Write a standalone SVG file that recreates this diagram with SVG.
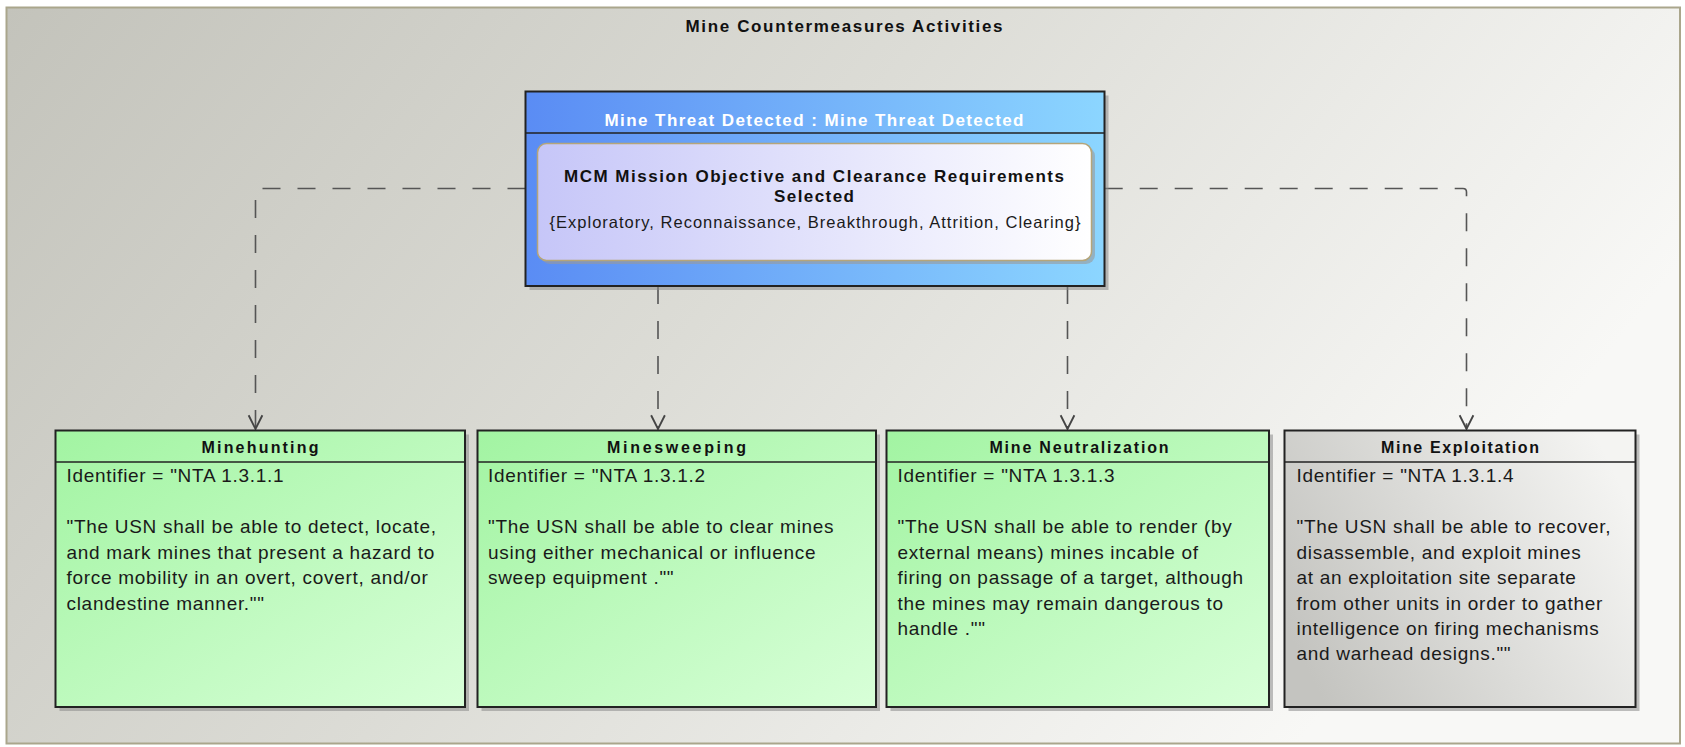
<svg xmlns="http://www.w3.org/2000/svg" width="1685" height="747" viewBox="0 0 1685 747">
<style>
.ttl{font-family:"Liberation Sans",Arial,sans-serif;font-weight:bold;font-size:17px;fill:#111;text-anchor:middle}
.hdr{font-family:"Liberation Sans",Arial,sans-serif;font-weight:bold;font-size:16px;fill:#111;text-anchor:middle}
.body{font-family:"Liberation Sans",Arial,sans-serif;font-size:19px;fill:#1a1a1a;letter-spacing:0.7px}
.box{stroke:#222;stroke-width:2}
.sep{stroke:#222;stroke-width:1.5}
.shadow{fill:#8a8a8a;opacity:0.55}
.conn{fill:none;stroke:#555;stroke-width:1.6;stroke-dasharray:18 17;marker-end:url(#arr)}
</style>
<defs>
<linearGradient id="frameG" x1="0" y1="0" x2="1" y2="0.35">
<stop offset="0" stop-color="#c3c3bb"/>
<stop offset="0.5" stop-color="#dcdcd6"/>
<stop offset="1" stop-color="#f8f8f6"/>
</linearGradient>
<linearGradient id="greenG" x1="0" y1="0" x2="1" y2="1">
<stop offset="0" stop-color="#a2f4a2"/>
<stop offset="1" stop-color="#d8ffd8"/>
</linearGradient>
<linearGradient id="grayG" x1="0" y1="0.7" x2="1" y2="0.3">
<stop offset="0" stop-color="#c4c4c0"/>
<stop offset="1" stop-color="#f4f4f2"/>
</linearGradient>
<linearGradient id="blueG" x1="0" y1="0" x2="1" y2="0">
<stop offset="0" stop-color="#5a8cf4"/>
<stop offset="1" stop-color="#8cd6ff"/>
</linearGradient>
<linearGradient id="innerG" x1="0" y1="0" x2="1" y2="0">
<stop offset="0" stop-color="#c6c6f8"/>
<stop offset="1" stop-color="#ffffff"/>
</linearGradient>
<marker id="arr" markerUnits="userSpaceOnUse" markerWidth="20" markerHeight="20" viewBox="-14 -8 16 16" refX="0" refY="0" orient="auto">
<path d="M -11 -5.5 L 0 0 L -11 5.5" fill="none" stroke="#444" stroke-width="1.5"/>
</marker>
</defs>

<g id="frame">
<rect x="6.5" y="7.5" width="1673.5" height="736" fill="url(#frameG)" stroke="#aaa68c" stroke-width="2"/>
<text class="ttl" x="844" y="31.5" textLength="317" lengthAdjust="spacing">Mine Countermeasures Activities</text>
</g>

<g id="connectors">
<path class="conn" d="M 525.5 188.5 H 259 Q 255.5 188.5 255.5 192 V 429"/>
<path class="conn" d="M 658 286 V 429"/>
<path class="conn" d="M 1067.5 286 V 429"/>
<path class="conn" d="M 1104.7 188.5 H 1463 Q 1466.5 188.5 1466.5 192 V 429"/>
</g>

<g id="mine-threat-detected">
<rect class="shadow" x="529.5" y="95.5" width="579" height="194.5"/>
<rect class="box" x="525.5" y="91.5" width="579" height="194.5" fill="url(#blueG)"/>
<line class="sep" x1="525.5" y1="133" x2="1104.5" y2="133"/>
<text x="814" y="125.5" textLength="419" lengthAdjust="spacing" style="font-family:'Liberation Sans',Arial,sans-serif;font-weight:bold;font-size:17px;fill:#ffffff;text-anchor:middle">Mine Threat Detected : Mine Threat Detected</text>
<g id="mcm-objective">
<rect x="541" y="147" width="554" height="117" rx="9" fill="#9a9a9a" opacity="0.6"/>
<rect x="537.5" y="143.5" width="554" height="117" rx="9" fill="url(#innerG)" stroke="#b5a57a" stroke-width="1.5"/>
<text x="814" y="181.5" textLength="500" lengthAdjust="spacing" style="font-family:'Liberation Sans',Arial,sans-serif;font-weight:bold;font-size:17px;fill:#111;text-anchor:middle">MCM Mission Objective and Clearance Requirements</text>
<text x="814" y="201.5" textLength="80" lengthAdjust="spacing" style="font-family:'Liberation Sans',Arial,sans-serif;font-weight:bold;font-size:17px;fill:#111;text-anchor:middle">Selected</text>
<text x="815" y="228" textLength="531" lengthAdjust="spacing" style="font-family:'Liberation Sans',Arial,sans-serif;font-size:16.5px;fill:#1a1a1a;text-anchor:middle">{Exploratory, Reconnaissance, Breakthrough, Attrition, Clearing}</text>
</g>
</g>

<g id="minehunting">
<rect class="shadow" x="59.5" y="434.5" width="409.5" height="276.5"/>
<rect class="box" x="55.5" y="430.5" width="409.5" height="276.5" fill="url(#greenG)"/>
<line class="sep" x1="55.5" y1="462" x2="465" y2="462"/>
<text class="hdr" x="260" y="453.3" textLength="117" lengthAdjust="spacing">Minehunting</text>
<text class="body" x="66.5" y="481.7">Identifier = "NTA 1.3.1.1</text>
<text class="body" x="66.5" y="533.3">"The USN shall be able to detect, locate,</text>
<text class="body" x="66.5" y="558.7">and mark mines that present a hazard to</text>
<text class="body" x="66.5" y="584.1">force mobility in an overt, covert, and/or</text>
<text class="body" x="66.5" y="609.5">clandestine manner.""</text>
</g>

<g id="minesweeping">
<rect class="shadow" x="481.5" y="434.5" width="398.5" height="276.5"/>
<rect class="box" x="477.5" y="430.5" width="398.5" height="276.5" fill="url(#greenG)"/>
<line class="sep" x1="477.5" y1="462" x2="876" y2="462"/>
<text class="hdr" x="676.5" y="453.3" textLength="139" lengthAdjust="spacing">Minesweeping</text>
<text class="body" x="488" y="481.7">Identifier = "NTA 1.3.1.2</text>
<text class="body" x="488" y="533.3">"The USN shall be able to clear mines</text>
<text class="body" x="488" y="558.7">using either mechanical or influence</text>
<text class="body" x="488" y="584.1">sweep equipment .""</text>
</g>

<g id="mine-neutralization">
<rect class="shadow" x="890.5" y="434.5" width="382.5" height="276.5"/>
<rect class="box" x="886.5" y="430.5" width="382.5" height="276.5" fill="url(#greenG)"/>
<line class="sep" x1="886.5" y1="462" x2="1269" y2="462"/>
<text class="hdr" x="1079" y="453.3" textLength="179" lengthAdjust="spacing">Mine Neutralization</text>
<text class="body" x="897.5" y="481.7">Identifier = "NTA 1.3.1.3</text>
<text class="body" x="897.5" y="533.3">"The USN shall be able to render (by</text>
<text class="body" x="897.5" y="558.7">external means) mines incable of</text>
<text class="body" x="897.5" y="584.1">firing on passage of a target, although</text>
<text class="body" x="897.5" y="609.5">the mines may remain dangerous to</text>
<text class="body" x="897.5" y="634.9">handle .""</text>
</g>

<g id="mine-exploitation">
<rect class="shadow" x="1288.5" y="434.5" width="351" height="276.5"/>
<rect class="box" x="1284.5" y="430.5" width="351" height="276.5" fill="url(#grayG)"/>
<line class="sep" x1="1284.5" y1="462" x2="1635.5" y2="462"/>
<text class="hdr" x="1460" y="453.3" textLength="158" lengthAdjust="spacing">Mine Exploitation</text>
<text class="body" x="1296.5" y="481.7">Identifier = "NTA 1.3.1.4</text>
<text class="body" x="1296.5" y="533.3">"The USN shall be able to recover,</text>
<text class="body" x="1296.5" y="558.7">disassemble, and exploit mines</text>
<text class="body" x="1296.5" y="584.1">at an exploitation site separate</text>
<text class="body" x="1296.5" y="609.5">from other units in order to gather</text>
<text class="body" x="1296.5" y="634.9">intelligence on firing mechanisms</text>
<text class="body" x="1296.5" y="660.3">and warhead designs.""</text>
</g>
</svg>
